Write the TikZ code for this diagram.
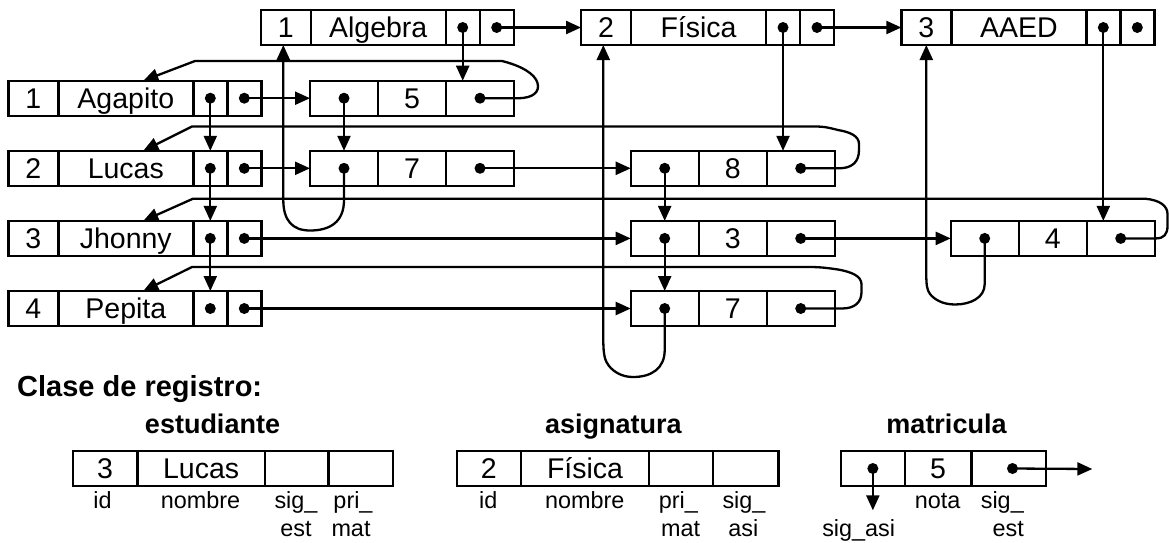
\documentclass[tikz,border=0pt]{standalone}
\usepackage{fontspec}
\setmainfont{Liberation Sans}
\usetikzlibrary{arrows.meta,calc}

\tikzset{
  cell/.style={draw, line width=2.4pt, minimum height=35pt, inner sep=0pt, outer sep=0pt,
    text height=20.4pt, text depth=0pt, anchor=west,
    font=\fontsize{28.5pt}{30pt}\selectfont},
  idc/.style={cell, minimum width=50pt},
  namec/.style={cell, minimum width=135pt},
  ptrc/.style={cell, minimum width=34pt},
  matc/.style={cell, minimum width=68pt},
  dot/.style={circle, fill=black, inner sep=0pt, minimum size=11pt},
  ptr/.style={line width=2.3pt, -{Triangle[length=15pt,width=13pt]}},
  title/.style={anchor=base west, inner sep=0pt, font=\bfseries\fontsize{29pt}{31pt}\selectfont},
  head/.style={anchor=base, inner sep=0pt, font=\bfseries\fontsize{27pt}{29pt}\selectfont},
  fieldlbl/.style={anchor=base, inner sep=0pt, font=\fontsize{23.4pt}{25pt}\selectfont},
}

\begin{document}
\begin{tikzpicture}[x=1pt, y=-1pt]
\useasboundingbox (0,0) rectangle (1169,542);

% ---------- asignaturas ----------
\node[idc]   (a1-id) at (260.7,27.5) {1};
\node[namec] (a1-n)  at (a1-id.east) {Algebra};
\node[ptrc]  (a1-p1) at (a1-n.east) {};
\node[ptrc]  (a1-p2) at (a1-p1.east) {};

\node[idc]   (a2-id) at (581,27.5) {2};
\node[namec] (a2-n)  at (a2-id.east) {Física};
\node[ptrc]  (a2-p1) at (a2-n.east) {};
\node[ptrc]  (a2-p2) at (a2-p1.east) {};

\node[idc]   (a3-id) at (901.3,27.5) {3};
\node[namec] (a3-n)  at (a3-id.east) {AAED};
\node[ptrc]  (a3-p1) at (a3-n.east) {};
\node[ptrc]  (a3-p2) at (a3-p1.east) {};

% ---------- estudiantes ----------
\node[idc]   (s1-id) at (8.3,98.2) {1};
\node[namec] (s1-n)  at (s1-id.east) {Agapito};
\node[ptrc]  (s1-p1) at (s1-n.east) {};
\node[ptrc]  (s1-p2) at (s1-p1.east) {};

\node[idc]   (s2-id) at (8.3,168.3) {2};
\node[namec] (s2-n)  at (s2-id.east) {Lucas};
\node[ptrc]  (s2-p1) at (s2-n.east) {};
\node[ptrc]  (s2-p2) at (s2-p1.east) {};

\node[idc]   (s3-id) at (8.3,238.4) {3};
\node[namec] (s3-n)  at (s3-id.east) {Jhonny};
\node[ptrc]  (s3-p1) at (s3-n.east) {};
\node[ptrc]  (s3-p2) at (s3-p1.east) {};

\node[idc]   (s4-id) at (8.3,308.5) {4};
\node[namec] (s4-n)  at (s4-id.east) {Pepita};
\node[ptrc]  (s4-p1) at (s4-n.east) {};
\node[ptrc]  (s4-p2) at (s4-p1.east) {};

% ---------- matriculas ----------
\node[matc] (m1-c1) at (310,98.2) {};
\node[matc] (m1-c2) at (m1-c1.east) {5};
\node[matc] (m1-c3) at (m1-c2.east) {};

\node[matc] (m2-c1) at (310,168.3) {};
\node[matc] (m2-c2) at (m2-c1.east) {7};
\node[matc] (m2-c3) at (m2-c2.east) {};

\node[matc] (m3-c1) at (630.7,168.3) {};
\node[matc] (m3-c2) at (m3-c1.east) {8};
\node[matc] (m3-c3) at (m3-c2.east) {};

\node[matc] (m4-c1) at (630.7,238.4) {};
\node[matc] (m4-c2) at (m4-c1.east) {3};
\node[matc] (m4-c3) at (m4-c2.east) {};

\node[matc] (m5-c1) at (630.7,308.5) {};
\node[matc] (m5-c2) at (m5-c1.east) {7};
\node[matc] (m5-c3) at (m5-c2.east) {};

\node[matc] (m6-c1) at (950.7,238.4) {};
\node[matc] (m6-c2) at (m6-c1.east) {4};
\node[matc] (m6-c3) at (m6-c2.east) {};

% ---------- pointer dots ----------
\foreach \r in {a1,a2,a3,s1,s2,s3,s4} {
  \node[dot] (\r-d1) at (\r-p1.center) {};
  \node[dot] (\r-d2) at (\r-p2.center) {};
}
\foreach \r in {m1,m2,m3,m4,m5,m6} {
  \node[dot] (\r-d1) at (\r-c1.center) {};
  \node[dot] (\r-d3) at (\r-c3.center) {};
}

% arrow targets on the student name cells
\foreach \r in {s1,s2,s3,s4} {
  \coordinate (\r-tip) at ($(\r-n.north west)+(85,0)$);
}

% ---------- list of asignaturas ----------
\draw[ptr] (a1-d2.center) -- (a2-id.west);
\draw[ptr] (a2-d2.center) -- (a3-id.west);

% first matricula of each asignatura
\draw[ptr] (a1-d1.center) -- (a1-d1.center |- m1-c3.north);
\draw[ptr] (a2-d1.center) -- (a2-d1.center |- m3-c3.north);
\draw[ptr] (a3-d1.center) -- (a3-d1.center |- m6-c3.north);

% ---------- list of estudiantes ----------
\draw[ptr] (s1-d1.center) -- (s2-p1.north);
\draw[ptr] (s2-d1.center) -- (s3-p1.north);
\draw[ptr] (s3-d1.center) -- (s4-p1.north);

% first matricula of each estudiante
\draw[ptr] (s1-d2.center) -- (m1-c1.west);
\draw[ptr] (s2-d2.center) -- (m2-c1.west);
\draw[ptr] (s3-d2.center) -- (m4-c1.west);
\draw[ptr] (s4-d2.center) -- (m5-c1.west);

% sig_est between matriculas
\draw[ptr] (m2-d3.center) -- (m3-c1.west);
\draw[ptr] (m4-d3.center) -- (m6-c1.west);

% sig_asi between matriculas
\draw[ptr] (m1-d1.center) -- (m2-c1.north);
\draw[ptr] (m3-d1.center) -- (m4-c1.north);
\draw[ptr] (m4-d1.center) -- (m5-c1.north);

% ---------- sig_est back to the estudiante ----------
\draw[ptr] (m1-d3.center) -- (518,98.2)
  .. controls (533,98.2) and (540,92) .. (537.5,83)
  .. controls (535,74) and (522,66) .. (502,61)
  -- (195,61) -- (s1-tip);
\draw[ptr] (m3-d3.center) -- (839,168.3)
  .. controls (852,168.3) and (859,162) .. (859,150)
  -- (859,144)
  .. controls (859,136) and (850,132) .. (838,130)
  .. controls (830,128) and (825,126.5) .. (815,126.5)
  -- (192,126.5) -- (s2-tip);
\draw[ptr] (m6-d3.center) -- (1156,238.4)
  .. controls (1164,238.4) and (1167.5,234) .. (1167.5,226)
  -- (1167.5,214)
  .. controls (1167.5,206) and (1160,200) .. (1145,198.7)
  -- (193,198.7) -- (s3-tip);
\draw[ptr] (m5-d3.center) -- (842,308.5)
  .. controls (855,308.5) and (861.5,302) .. (861.5,292)
  -- (861.5,284)
  .. controls (861,276) and (852,272) .. (838,269.5)
  .. controls (828,268) and (820,267) .. (810,267)
  -- (192,267) -- (s4-tip);

% ---------- sig_asi back to the asignatura ----------
\draw[ptr] (m2-d1.center) -- (344,200)
  .. controls (344,222) and (330,230.5) .. (310,230.5)
  .. controls (292,230.5) and (283.3,220) .. (283.3,200)
  -- ($(a1-id.south)+(-2.4,0)$);
\draw[ptr] (m5-d1.center) -- (664.7,350)
  .. controls (664.7,368) and (652,377) .. (633,377)
  .. controls (622,377) and (614,372) .. (609,366)
  .. controls (605,361) and (603.3,355) .. (603.3,340)
  -- ($(a2-id.south)+(-2.7,0)$);
\draw[ptr] (m6-d1.center) -- (984.7,284)
  .. controls (984.7,298) and (970,304.5) .. (955,304.5)
  .. controls (942,304.5) and (934,299) .. (930,294)
  .. controls (927,290) and (926.3,285) .. (926.3,275)
  -- (a3-id.south);

% ---------- record layouts ----------
\node[title] (ttl) at (17,396) {Clase de registro:};

\node[head] (h-est) at (212.5,433) {estudiante};
\node[head] (h-asi) at (613.3,433) {asignatura};
\node[head] (h-mat) at (946.5,433) {matricula};

\node[cell, minimum width=64.6pt] (le-id) at (72.7,468.5) {3};
\node[cell, minimum width=127.7pt] (le-n) at (le-id.east) {Lucas};
\node[cell, minimum width=63.3pt] (le-p1) at (le-n.east) {};
\node[cell, minimum width=64.4pt] (le-p2) at (le-p1.east) {};

\node[cell, minimum width=64.3pt] (la-id) at (456.7,468.5) {2};
\node[cell, minimum width=128pt] (la-n) at (la-id.east) {Física};
\node[cell, minimum width=63.7pt] (la-p1) at (la-n.east) {};
\node[cell, minimum width=65.6pt] (la-p2) at (la-p1.east) {};

\node[cell, minimum width=64.3pt] (lm-c1) at (840.7,468.5) {};
\node[cell, minimum width=66.3pt] (lm-c2) at (lm-c1.east) {5};
\node[cell, minimum width=74.4pt] (lm-c3) at (lm-c2.east) {};

\node[dot] (lm-d1) at (lm-c1.center) {};
\node[dot] (lm-d3) at ($(lm-c3.center)+(4,0)$) {};
\coordinate (lm-down) at (lm-d1.center |- 0,510.3);
\coordinate (lm-right) at (1092.3,469);
\draw[ptr] (lm-d1.center) -- (lm-down);
\draw[ptr] (lm-d3.center) -- (lm-right);

% field names
\node[fieldlbl] (le-l1) at (102.5,508) {id};
\node[fieldlbl] (le-l2) at (200.5,508) {nombre};
\node[fieldlbl] (le-l3) at (296,508) {sig\_};
\node[fieldlbl] (le-l4) at (353,508) {pri\_};
\node[fieldlbl] (le-l5) at (296,536.5) {est};
\node[fieldlbl] (le-l6) at (351,536.5) {mat};

\node[fieldlbl] (la-l1) at (488.3,508) {id};
\node[fieldlbl] (la-l2) at (584.7,508) {nombre};
\node[fieldlbl] (la-l3) at (678.3,508) {pri\_};
\node[fieldlbl] (la-l4) at (744,508) {sig\_};
\node[fieldlbl] (la-l5) at (680.7,536.5) {mat};
\node[fieldlbl] (la-l6) at (743.3,536.5) {asi};

\node[fieldlbl] (lm-l1) at (858.7,536.5) {sig\_asi};
\node[fieldlbl] (lm-l2) at (937.7,508) {nota};
\node[fieldlbl] (lm-l3) at (1002.3,508) {sig\_};
\node[fieldlbl] (lm-l4) at (1008.2,536.5) {est};
\end{tikzpicture}
\end{document}
